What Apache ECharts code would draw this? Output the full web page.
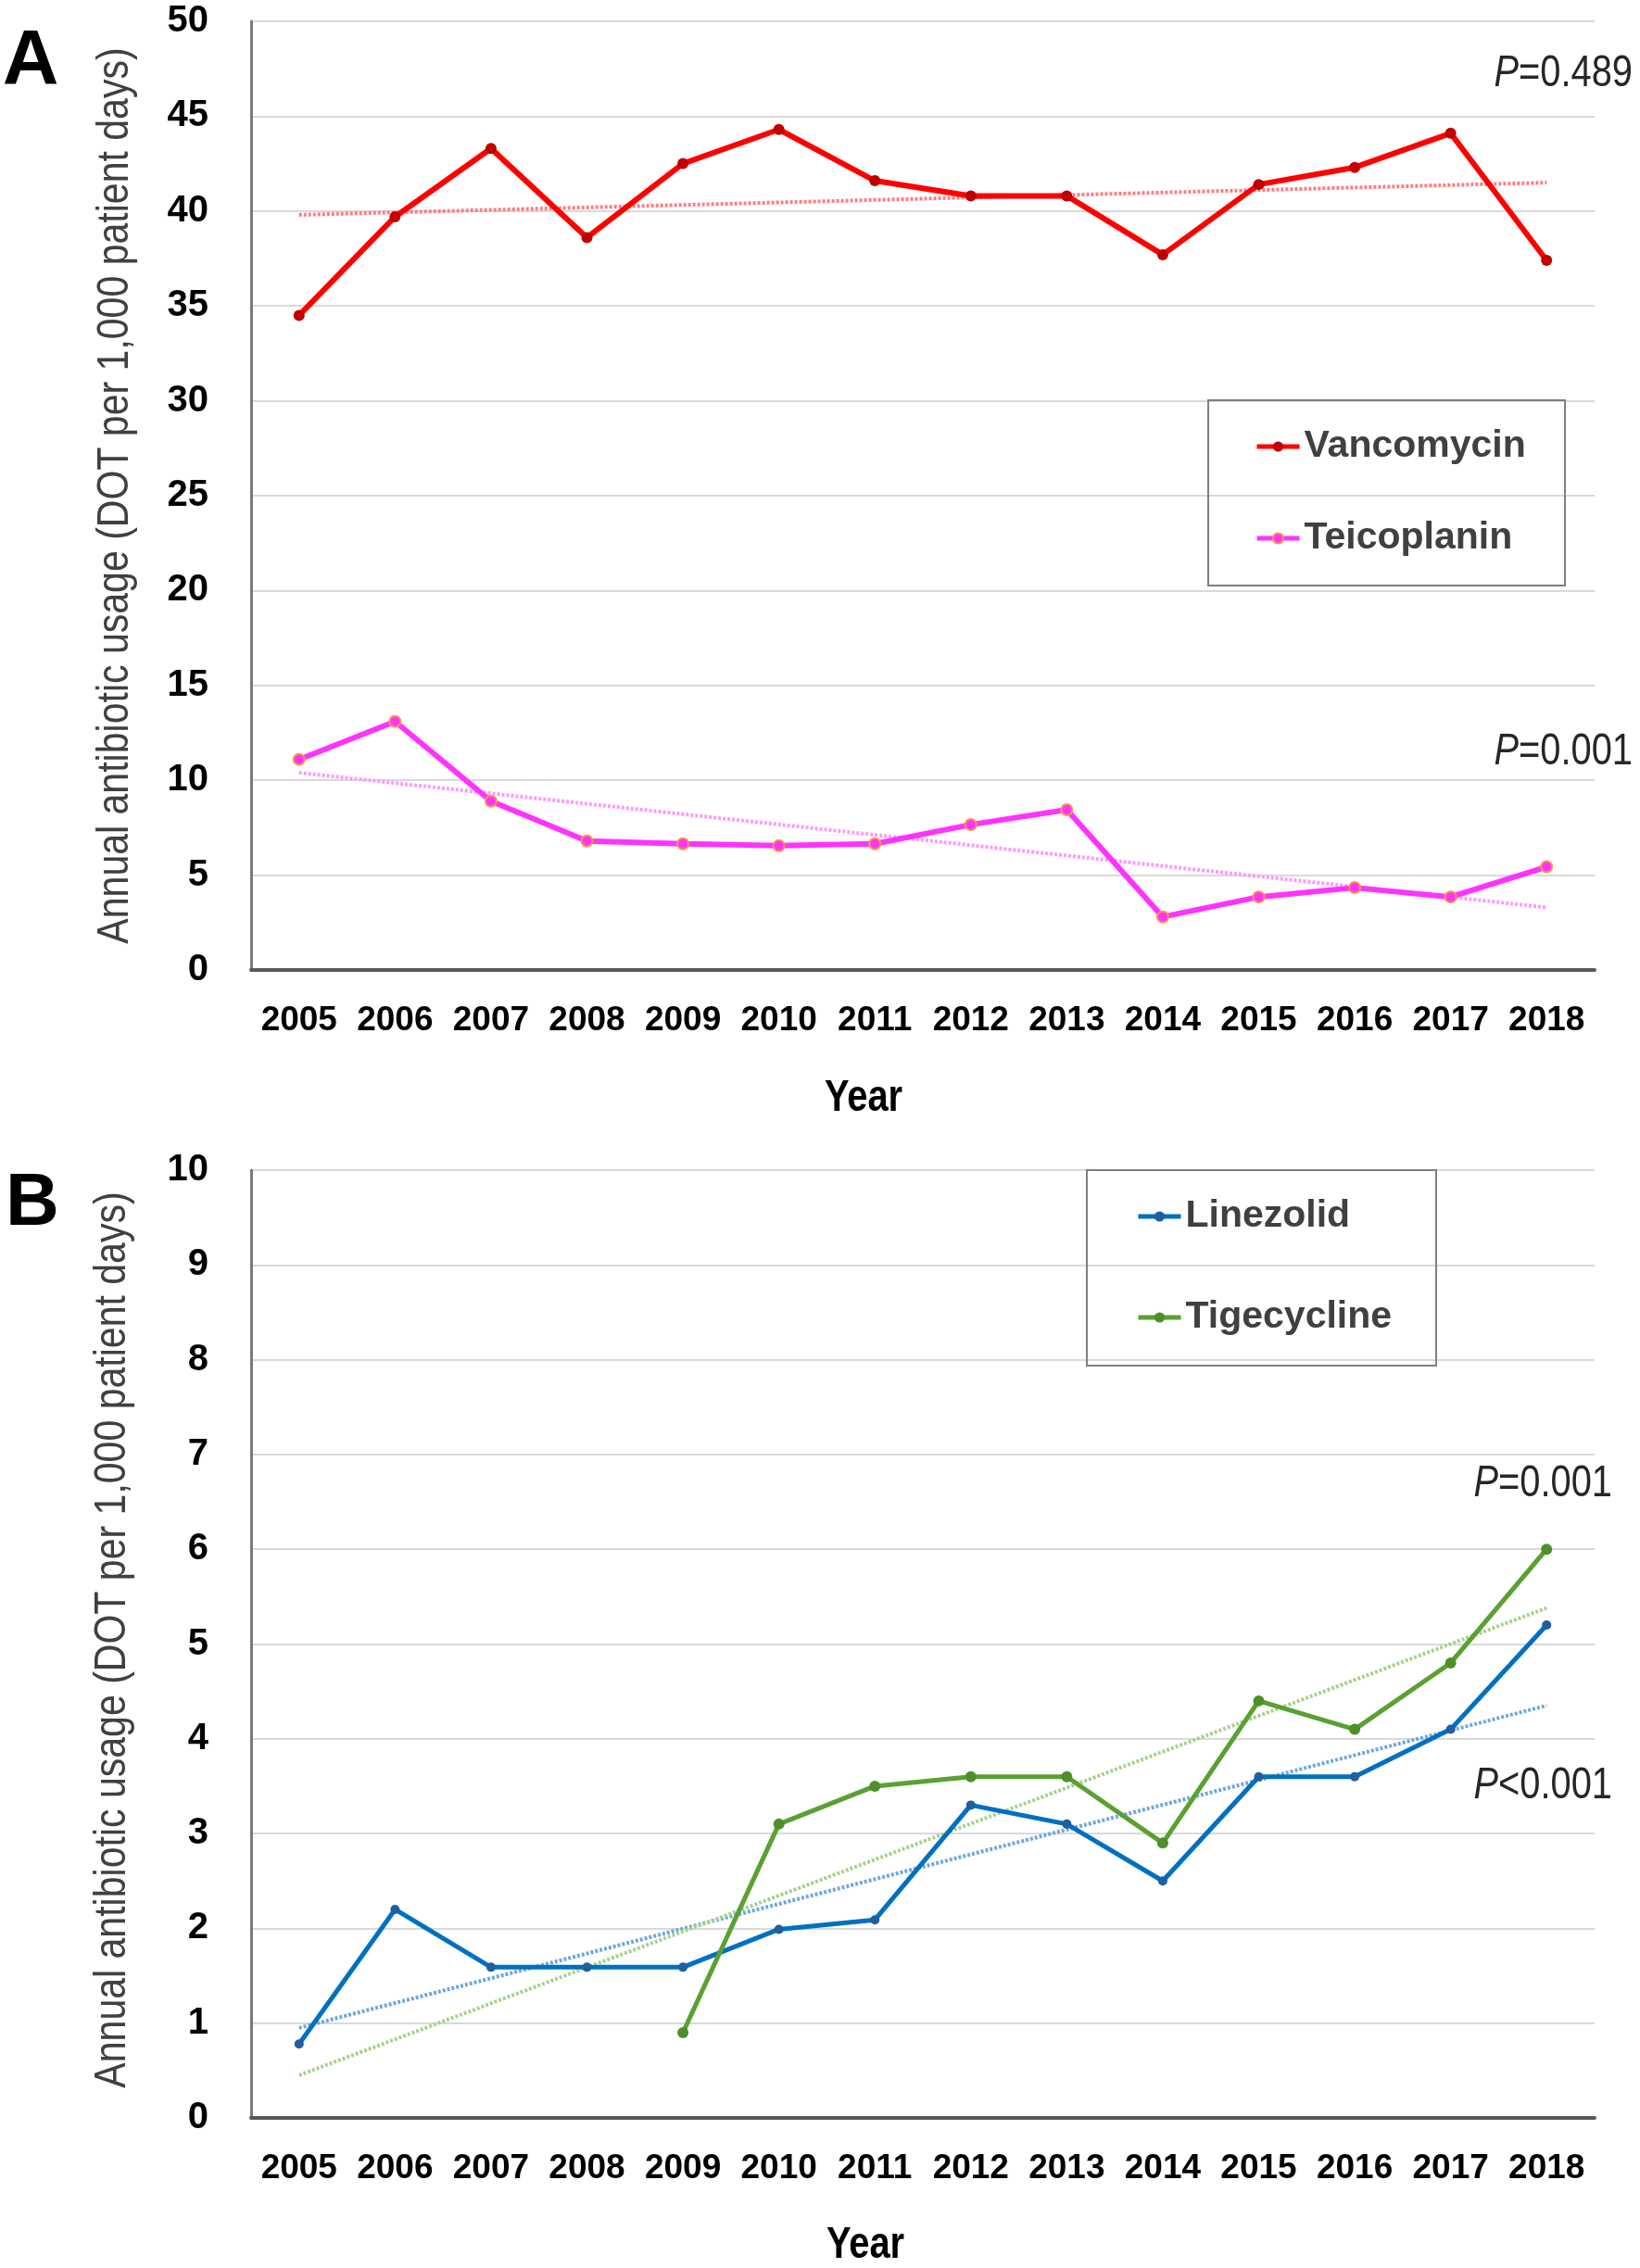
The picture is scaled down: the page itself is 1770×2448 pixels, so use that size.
<!DOCTYPE html>
<html>
<head>
<meta charset="utf-8">
<script src="https://cdn.jsdelivr.net/npm/echarts@6/dist/echarts.min.js"></script>
<style>
  html, body { margin: 0; padding: 0; background: #fff; }
  #chart { width: 1770px; height: 2448px; }
</style>
</head>
<body>
<div id="chart"></div>
<script>
const years = ['2005', '2006', '2007', '2008', '2009', '2010', '2011', '2012', '2013', '2014', '2015', '2016', '2017', '2018']

// panel A
const vancomycin = [34.5, 39.7, 43.3, 38.6, 42.5, 44.3, 41.6, 40.8, 40.8, 37.7, 41.4, 42.3, 44.1, 37.4]
const teicoplanin = [11.1, 13.1, 8.9, 6.8, 6.65, 6.55, 6.65, 7.66, 8.45, 2.8, 3.85, 4.34, 3.85, 5.44]
// panel B
const linezolid = [0.78, 2.2, 1.59, 1.59, 1.59, 1.99, 2.09, 3.3, 3.1, 2.5, 3.6, 3.6, 4.1, 5.2]
const tigecycline = [null, null, null, null, 0.9, 3.1, 3.5, 3.6, 3.6, 2.9, 4.4, 4.1, 4.8, 6.0]

// linear trend lines, value at 2005 and at 2018
const vancomycinTrend = [39.8, 41.5]
const teicoplaninTrend = [10.4, 3.3]
const linezolidTrend = [0.95, 4.35]
const tigecyclineTrend = [0.45, 5.38]

const pTexts = ['=0.489', '=0.001', '=0.001', '<0.001']

const sans = '"Liberation Sans", Arial, sans-serif'
const yTitle = 'Annual antibiotic usage (DOT per 1,000 patient days)'
const NARROW = 0.83 // no Arial Narrow here, squeeze the free texts instead

const trendData = t => [[years[0], t[0]], [years[years.length - 1], t[1]]]

function mainLine(name, data, color, markColor, idx, size, width, border) {
    return {
        name: name, type: 'line', data: data, xAxisIndex: idx, yAxisIndex: idx,
        symbol: 'circle', symbolSize: size, z: 3,
        lineStyle: {color: color, width: width},
        itemStyle: {color: markColor, borderColor: border || markColor, borderWidth: border ? 2 : 0},
        emphasis: {disabled: true}
    }
}

function trendLine(name, t, color, idx) {
    return {
        name: name, type: 'line', data: trendData(t), xAxisIndex: idx, yAxisIndex: idx,
        symbol: 'none', z: 2, silent: true,
        lineStyle: {color: color, width: 4, type: [3, 2]}
    }
}

function xAxis(idx) {
    return {
        type: 'category', data: years, gridIndex: idx, boundaryGap: true,
        axisLine: {lineStyle: {color: '#595959', width: 4}},
        axisTick: {show: false},
        axisLabel: {color: '#000', fontSize: 37, fontWeight: 'bold', fontFamily: sans, margin: 36, interval: 0}
    }
}

function yAxis(idx, max, interval) {
    return {
        type: 'value', gridIndex: idx, min: 0, max: max, interval: interval,
        axisLine: {show: true, lineStyle: {color: '#7a7a7a', width: 3}},
        axisTick: {show: false},
        splitLine: {lineStyle: {color: '#d9d9d9', width: 2}},
        axisLabel: {color: '#000', fontSize: 40, fontWeight: 'bold', fontFamily: sans, margin: 46}
    }
}

function legend(names, left, top, gap) {
    return {
        data: names, orient: 'vertical', left: left, top: top, itemGap: gap, padding: 0,
        itemWidth: 46, itemHeight: 14,
        lineStyle: {width: 5},
        textStyle: {color: '#404040', fontSize: 41, fontWeight: 'bold', fontFamily: sans, lineHeight: 50}
    }
}

function pLabel(text, x, y) {
    return {
        type: 'text', x: x, y: y, scaleX: NARROW,
        style: {
            text: '{i|P}{n|' + text + '}', textAlign: 'right', textVerticalAlign: 'middle',
            rich: {
                i: {fontStyle: 'italic', fontSize: 48, fontFamily: sans, fill: '#262626'},
                n: {fontSize: 48, fontFamily: sans, fill: '#262626'}
            }
        }
    }
}

function textEl(text, x, y, size, weight, color, sx, rot) {
    return {
        type: 'text', x: x, y: y, rotation: rot || 0, scaleX: sx,
        style: {text: text, fontSize: size, fontWeight: weight, fontFamily: sans, fill: color,
            textAlign: 'center', textVerticalAlign: 'middle'}
    }
}

function legendBox(x, y, w, h) {
    return {type: 'rect', shape: {x: x, y: y, width: w, height: h}, z: 1,
        style: {fill: 'transparent', stroke: '#7f7f7f', lineWidth: 2}}
}

const option = {
    animation: false,
    backgroundColor: '#fff',
    grid: [
        {left: 271, right: 49, top: 23, height: 1024},
        {left: 271, right: 49, top: 1263, height: 1023}
    ],
    xAxis: [xAxis(0), xAxis(1)],
    yAxis: [yAxis(0, 50, 5), yAxis(1, 10, 1)],
    legend: [
        legend(['Vancomycin', 'Teicoplanin'], 1354, 457, 49),
        legend(['Linezolid', 'Tigecycline'], 1226, 1288, 59)
    ],
    graphic: [
        legendBox(1304, 432, 385, 200),
        legendBox(1173, 1263, 377, 211),
        textEl('A', 33, 68, 84, 'bold', '#000', 1),
        textEl('B', 35, 1300, 80, 'bold', '#000', 1),
        textEl(yTitle, 125, 535, 48, 'normal', '#404040', 0.855, Math.PI / 2),
        textEl(yTitle, 122, 1770, 48, 'normal', '#404040', 0.855, Math.PI / 2),
        textEl('Year', 932, 1186, 48, 'bold', '#000', NARROW),
        textEl('Year', 934, 2424, 48, 'bold', '#000', NARROW),
        pLabel(pTexts[0], 1762, 80),
        pLabel(pTexts[1], 1762, 812),
        pLabel(pTexts[2], 1740, 1602),
        pLabel(pTexts[3], 1740, 1928)
    ],
    series: [
        trendLine('Vancomycin trend', vancomycinTrend, '#ff7c80', 0),
        trendLine('Teicoplanin trend', teicoplaninTrend, '#ff99ff', 0),
        mainLine('Vancomycin', vancomycin, '#ff0000', '#c00000', 0, 12, 6),
        mainLine('Teicoplanin', teicoplanin, '#ff33ff', '#ff33ff', 0, 12, 6, '#f79646'),
        trendLine('Linezolid trend', linezolidTrend, '#6fa8dc', 1),
        trendLine('Tigecycline trend', tigecyclineTrend, '#a9d18e', 1),
        mainLine('Linezolid', linezolid, '#0070c0', '#1f5f9f', 1, 10, 5),
        mainLine('Tigecycline', tigecycline, '#5ba032', '#4e8f2a', 1, 12, 5)
    ]
}

const myChart = echarts.init(document.getElementById('chart'))
myChart.setOption(option)
</script>
</body>
</html>
